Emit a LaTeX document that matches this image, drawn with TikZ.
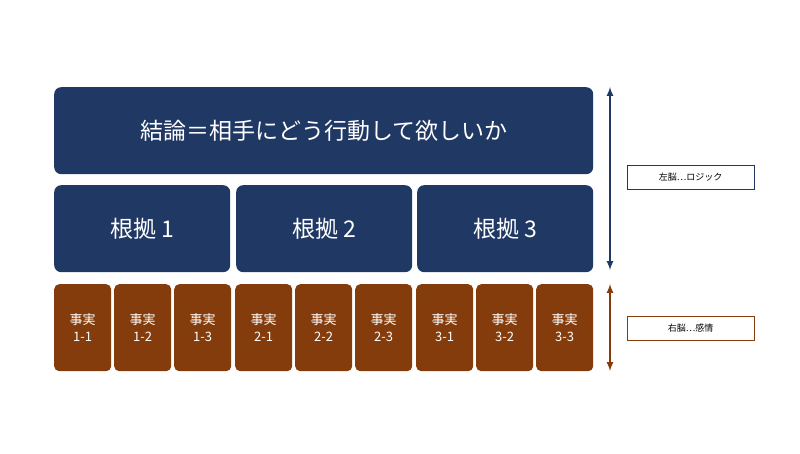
\documentclass[tikz,border=0pt]{standalone}
\usepackage{fontspec}
\setmainfont{Noto Sans CJK JP}
\begin{document}
\begin{tikzpicture}[x=1pt,y=-1pt,
  navy/.style={fill=nv,draw=none,rounded corners=7pt,text=white},
  brn/.style={fill=br,draw=none,rounded corners=5pt,text=white,font=\fontsize{13}{17}\selectfont,align=center},
  lab/.style={draw,fill=white,font=\fontsize{9}{11}\selectfont,minimum width=127pt,minimum height=24pt}]
\definecolor{nv}{HTML}{203864}
\definecolor{br}{HTML}{843C0C}
\useasboundingbox (0,0) rectangle (800,454);
\node[navy,minimum width=539pt,minimum height=87pt,font=\fontsize{23}{27}\selectfont,anchor=north west] (c) at (54,87) {結論＝相手にどう行動して欲しいか};
\foreach \x/\t in {54/1,236/2,417/3}
  \node[navy,minimum width=176pt,minimum height=87pt,font=\fontsize{23}{27}\selectfont,anchor=north west] (r\t) at (\x,185) {根拠 \t};
\foreach \x/\t in {54/1-1,114/1-2,174/1-3,235/2-1,295/2-2,355/2-3,416/3-1,476/3-2,536/3-3}
  \node[brn,minimum width=57pt,minimum height=87pt,anchor=north west] (f\t) at (\x,284) {事実\\\t};
\coordinate (a1) at (610,87); \coordinate (a2) at (610,270);
\coordinate (b1) at (610,284); \coordinate (b2) at (610,371);
\draw[nv,line width=2pt,<->,>=latex] (a1) -- (a2);
\draw[br,line width=2pt,<->,>=latex] (b1) -- (b2);
\node[lab,draw=nv,anchor=north west] (l1) at (627,165) {左脳…ロジック};
\node[lab,draw=br,anchor=north west] (l2) at (627,316) {右脳…感情};
\end{tikzpicture}
\end{document}
